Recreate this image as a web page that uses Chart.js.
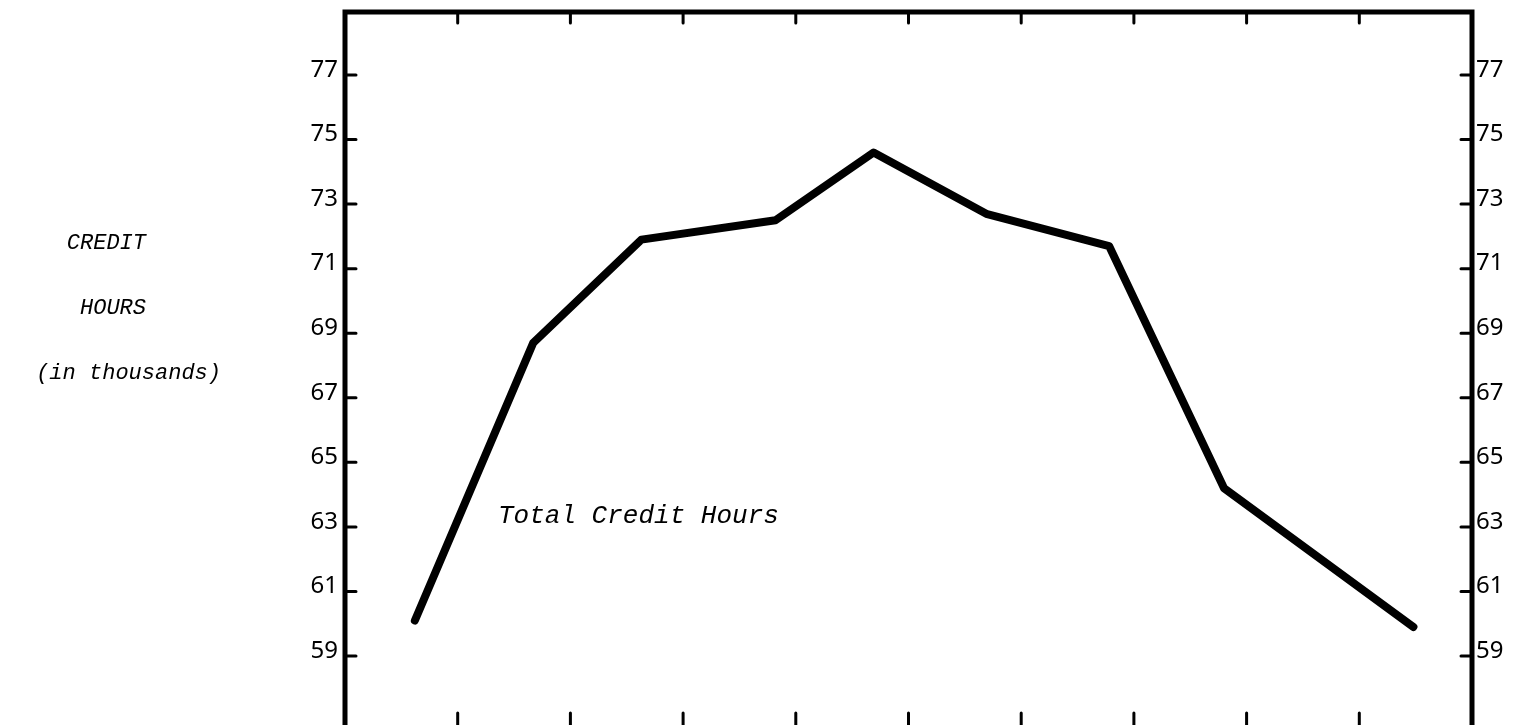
<!DOCTYPE html>
<html>
<head>
<meta charset="utf-8">
<script src="https://cdn.jsdelivr.net/npm/chart.js@4.4.0/dist/chart.umd.min.js"></script>
<style>
  html, body { margin: 0; padding: 0; background: #fff; overflow: hidden; }
  #wrap { width: 1513px; height: 745px; position: relative; }
</style>
</head>
<body>
<div id="wrap"><canvas id="creditChart"></canvas></div>
<script>
// x position of each reading on the horizontal scale (0..10)
const periods = [0.62, 1.67, 2.63, 3.82, 4.69, 5.69, 6.78, 7.80, 9.48];
// total credit hours, in thousands
const creditHours = [60.1, 68.7, 71.9, 72.5, 74.6, 72.7, 71.7, 64.2, 59.9];
const yTickValues = [59, 61, 63, 65, 67, 69, 71, 73, 75, 77];
const xTickValues = [1, 2, 3, 4, 5, 6, 7, 8, 9];
const seriesLabel = "Total Credit Hours";
const axisTitle = ["CREDIT", "HOURS", "(in thousands)"];

const tickFont = { family: "'Noto Sans', sans-serif", size: 24 };
const typeFont = "italic 22px 'Liberation Mono', 'Courier New', monospace";

function fixedTicks(axis) {
  axis.ticks = yTickValues.map(v => ({ value: v }));
}

function noPadding(scale) {
  scale.paddingTop = 0;
  scale.paddingBottom = 0;
}

const framePlugin = {
  id: "frame",
  afterDraw(chart) {
    const ctx = chart.ctx;
    const area = chart.chartArea;
    const ys = chart.scales.y;
    const xs = chart.scales.x;
    ctx.save();
    ctx.strokeStyle = "#000";
    ctx.lineCap = "square";

    // box: left, top, right (bottom edge falls off the page)
    ctx.lineWidth = 5;
    ctx.beginPath();
    ctx.moveTo(area.left, area.bottom);
    ctx.lineTo(area.left, area.top);
    ctx.lineTo(area.right, area.top);
    ctx.lineTo(area.right, area.bottom);
    ctx.stroke();

    // inward tick marks
    ctx.lineWidth = 3;
    ctx.lineCap = "round";
    yTickValues.forEach(v => {
      const y = ys.getPixelForValue(v);
      ctx.beginPath();
      ctx.moveTo(area.left, y);
      ctx.lineTo(area.left + 11, y);
      ctx.moveTo(area.right, y);
      ctx.lineTo(area.right - 11, y);
      ctx.stroke();
    });
    xTickValues.forEach(v => {
      const x = xs.getPixelForValue(v);
      ctx.beginPath();
      ctx.moveTo(x, area.top);
      ctx.lineTo(x, area.top + 11);
      ctx.moveTo(x, area.bottom);
      ctx.lineTo(x, area.bottom - 26);
      ctx.stroke();
    });

    // typed labels
    ctx.fillStyle = "#000";
    ctx.textBaseline = "middle";
    ctx.textAlign = "right";
    ctx.font = typeFont;
    ctx.fillText(axisTitle[0], 146, 243);
    ctx.fillText(axisTitle[1], 146, 308);
    ctx.fillText(axisTitle[2], 221, 373);

    ctx.textAlign = "left";
    ctx.font = "italic 26px 'Liberation Mono', 'Courier New', monospace";
    ctx.fillText(seriesLabel, 498, 516);
    ctx.restore();
  }
};

new Chart(document.getElementById("creditChart"), {
  type: "line",
  data: {
    datasets: [{
      label: seriesLabel,
      data: periods.map((p, i) => ({ x: p, y: creditHours[i] })),
      borderColor: "#000",
      borderWidth: 8,
      borderCapStyle: "round",
      borderJoinStyle: "round",
      pointRadius: 0,
      fill: false,
      tension: 0
    }]
  },
  options: {
    responsive: true,
    maintainAspectRatio: false,
    animation: false,
    layout: { padding: { top: 12, bottom: 6, left: 0, right: 0 } },
    plugins: {
      legend: { display: false },
      tooltip: { enabled: false }
    },
    scales: {
      x: {
        type: "linear",
        min: 0,
        max: 10,
        display: false
      },
      y: {
        type: "linear",
        position: "left",
        min: 56.43,
        max: 78.95,
        afterBuildTicks: fixedTicks,
        afterFit(scale) { scale.width = 345; noPadding(scale); },
        grid: { display: false, drawTicks: false },
        border: { display: false },
        ticks: { color: "#000", font: tickFont, padding: 7, labelOffset: -5 }
      },
      y2: {
        type: "linear",
        position: "right",
        min: 56.43,
        max: 78.95,
        afterBuildTicks: fixedTicks,
        afterFit(scale) { scale.width = 41; noPadding(scale); },
        grid: { display: false, drawTicks: false },
        border: { display: false },
        ticks: { color: "#000", font: tickFont, padding: 4, labelOffset: -5 }
      }
    }
  },
  plugins: [framePlugin]
});
</script>
</body>
</html>
